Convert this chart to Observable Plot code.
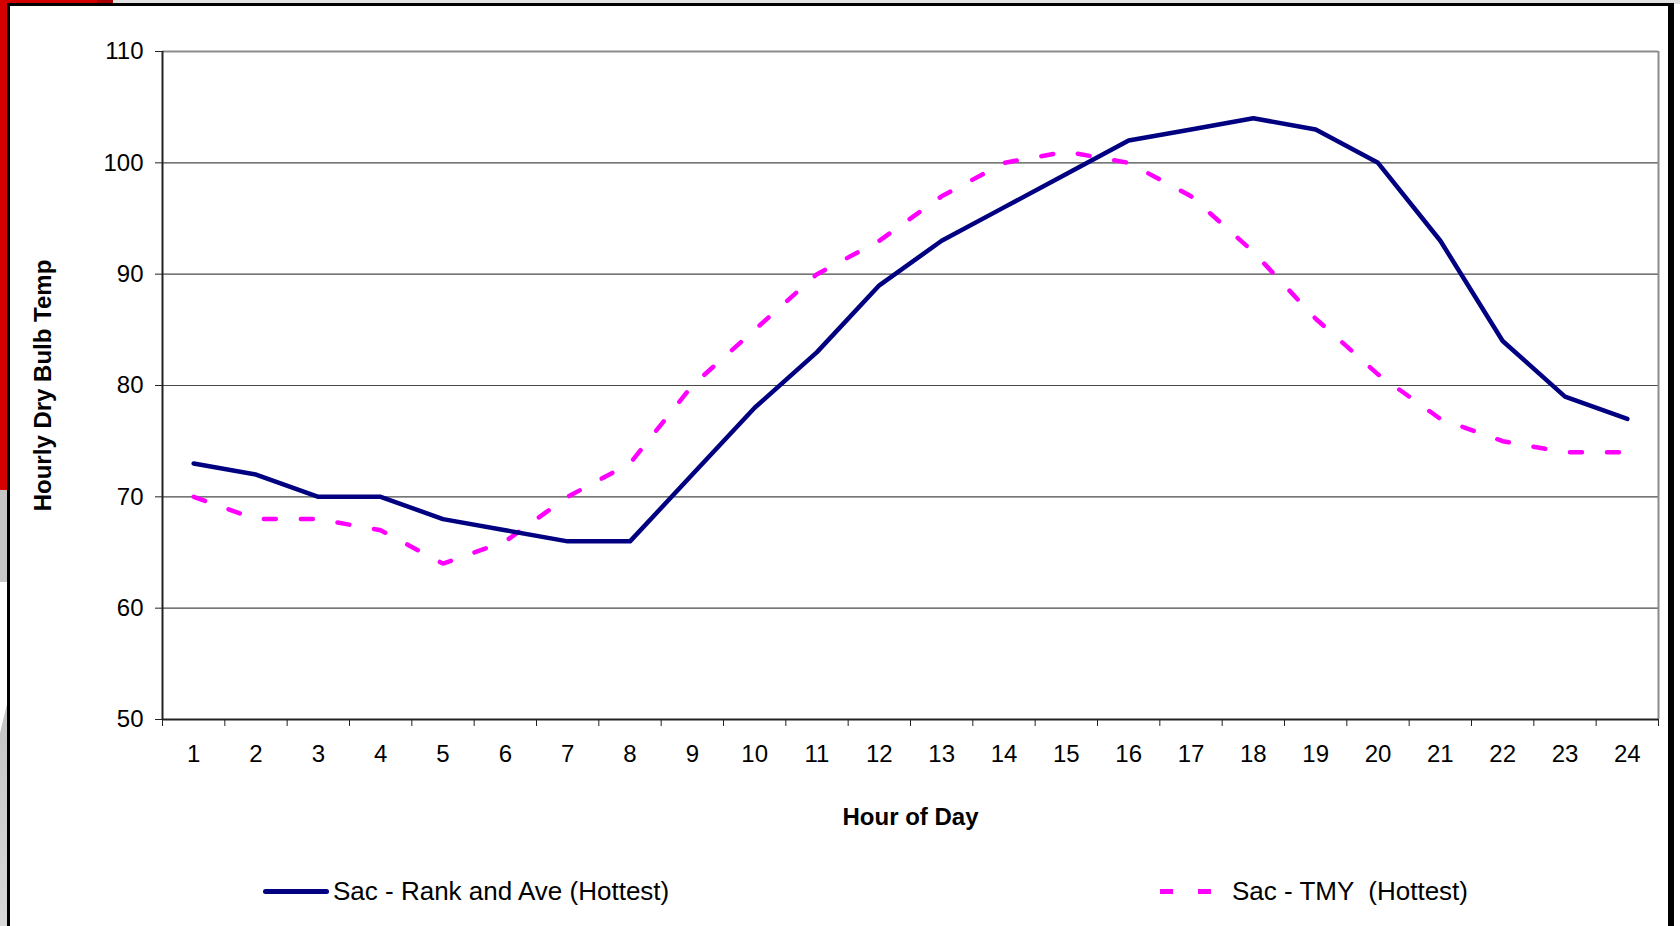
<!DOCTYPE html>
<html>
<head>
<meta charset="utf-8">
<script src="https://cdn.jsdelivr.net/npm/d3@7"></script>
<script src="https://cdn.jsdelivr.net/npm/@observablehq/plot@0.6"></script>
<style>
  html, body { margin: 0; padding: 0; background: #fff; }
  #page { position: relative; width: 1680px; height: 926px; overflow: hidden; background: #fff;
          font-family: "Liberation Sans", Arial, sans-serif; }
  .deco { position: absolute; }
  #chart { position: absolute; left: 0; top: 0; }
  .legend-item { position: absolute; top: 872px; height: 38px; display: flex; align-items: center;
                 font-size: 26px; color: #000; white-space: pre; }
  .swatch-solid { width: 66px; height: 5px; border-radius: 3px; background: #000080; margin-right: 4px; }
  .swatch-dash { width: 13px; height: 5px; background: #ff00ff; }
</style>
</head>
<body>
<div id="page">
  <!-- slide background peeking out around the chart frame -->
  <div class="deco" style="left:0;top:0;width:1680px;height:4px;background:#e2e2e2"></div>
  <div class="deco" style="left:0;top:0;width:97px;height:4px;background:#d40000"></div>
  <div class="deco" style="left:97px;top:0;width:16px;height:4px;background:#a80000"></div>
  <div class="deco" style="left:0;top:0;width:8px;height:490px;background:#d40000"></div>
  <div class="deco" style="left:0;top:490px;width:8px;height:92px;background:#c6c6c6"></div>
  <div class="deco" style="left:0;top:700px;width:8px;height:226px;background:linear-gradient(#c4c4c4,#d8d8d8);clip-path:polygon(0 33px,100% 0,100% 100%,0 100%)"></div>
  <!-- chart frame -->
  <div class="deco" style="left:7px;top:3px;width:1667px;height:1000px;border-left:3px solid #000;border-top:3px solid #000;border-right:6px solid #000;box-sizing:border-box"></div>

  <div id="chart"></div>

  <div class="legend-item" style="left:263px"><div class="swatch-solid"></div><span id="lab0"></span></div>
  <div class="legend-item" style="left:1160px"><div class="swatch-dash"></div><div class="swatch-dash" style="margin-left:25px"></div><span id="lab1" style="margin-left:21px"></span></div>
</div>
<script>
// Hourly dry bulb temperature, Sacramento, hottest day
const hours = [1, 2, 3, 4, 5, 6, 7, 8, 9, 10, 11, 12, 13, 14, 15, 16, 17, 18, 19, 20, 21, 22, 23, 24];
const rankAndAve = [73, 72, 70, 70, 68, 67, 66, 66, 72, 78, 83, 89, 93, 96, 99, 102, 103, 104, 103, 100, 93, 84, 79, 77];
const tmy = [70, 68, 68, 67, 64, 66, 70, 73, 80, 85, 90, 93, 97, 100, 101, 100, 97, 92, 86, 81, 77, 75, 74, 74];
const seriesNames = ["Sac - Rank and Ave (Hottest)", "Sac - TMY  (Hottest)"];
const yTicks = [50, 60, 70, 80, 90, 100, 110];
const xTitle = "Hour of Day";
const yTitle = "Hourly Dry Bulb Temp";

const rows0 = hours.map((h, i) => ({hour: h, temp: rankAndAve[i]}));
const rows1 = hours.map((h, i) => ({hour: h, temp: tmy[i]}));
// category boundaries for the tick marks between hours
const bounds = [hours[0] - 0.5, ...hours.map(h => h + 0.5)];
const yMin = yTicks[0], yMax = yTicks[yTicks.length - 1];

const font = '"Liberation Sans", Arial, sans-serif';

const chart = Plot.plot({
  width: 1680,
  height: 860,
  marginLeft: 162,
  marginRight: 22,
  marginTop: 51,
  marginBottom: 141,
  style: {fontFamily: font, fontSize: "24px", background: "transparent", color: "#000", overflow: "visible"},
  x: {type: "linear", domain: [bounds[0], bounds[bounds.length - 1]]},
  y: {domain: [yMin, yMax]},
  marks: [
    // horizontal gridlines
    Plot.ruleY(yTicks.slice(1, -1), {stroke: "#4a4a4a", strokeWidth: 1.2}),
    // plot area outline: grey top/right, dark axes left/bottom
    Plot.ruleY([yMax], {stroke: "#8c8c8c", strokeWidth: 2}),
    Plot.ruleX([bounds[bounds.length - 1]], {stroke: "#8c8c8c", strokeWidth: 2}),
    Plot.ruleY([yMin], {stroke: "#222", strokeWidth: 2}),
    Plot.ruleX([bounds[0]], {stroke: "#222", strokeWidth: 2}),
    Plot.axisY({ticks: yTicks, tickSize: 7, tickPadding: 12, tickFormat: d => String(d), label: null, stroke: "#222"}),
    Plot.axisX({ticks: bounds, tickSize: 7, tickFormat: () => "", label: null, stroke: "#222"}),
    Plot.axisX({ticks: hours, tickSize: 0, tickPadding: 25, tickFormat: d => String(d), label: null}),
    // series
    Plot.line(rows1, {x: "hour", y: "temp", stroke: "#ff00ff", strokeWidth: 4.5, strokeDasharray: "12,25", strokeLinejoin: "miter"}),
    Plot.line(rows0, {x: "hour", y: "temp", stroke: "#000080", strokeWidth: 4.5, strokeLinecap: "round", strokeLinejoin: "round"}),
    // axis titles
    Plot.text([xTitle], {text: d => d, frameAnchor: "bottom", dy: 105, fontSize: 24, fontWeight: "bold", fill: "#000"}),
    Plot.text([yTitle], {text: d => d, frameAnchor: "left", textAnchor: "middle", dx: -119, rotate: -90, fontSize: 24, fontWeight: "bold", fill: "#000"})
  ]
});
document.getElementById("chart").appendChild(chart);
document.getElementById("lab0").textContent = seriesNames[0];
document.getElementById("lab1").textContent = seriesNames[1];
</script>
</body>
</html>
